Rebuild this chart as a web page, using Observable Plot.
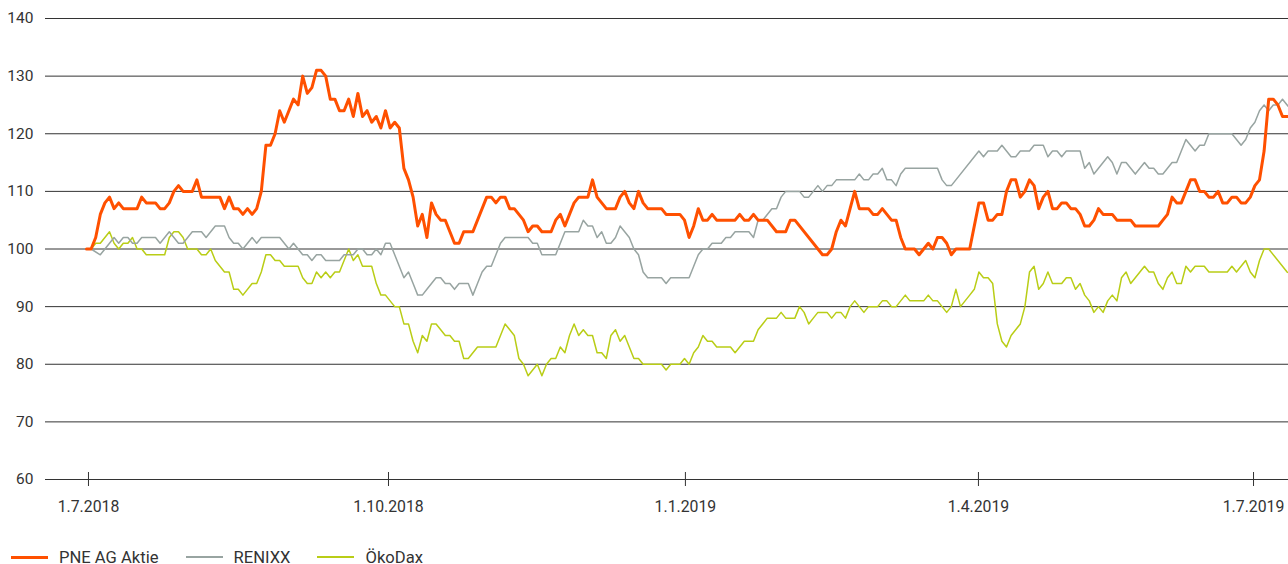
<!DOCTYPE html>
<html>
<head>
<meta charset="utf-8">
<script src="https://cdn.jsdelivr.net/npm/d3@7"></script>
<script src="https://cdn.jsdelivr.net/npm/@observablehq/plot@0.6"></script>
<style>
  html, body { margin: 0; padding: 0; background: #fff; }
  #wrap { position: relative; width: 1288px; height: 564px; font-family: Roboto, "DejaVu Sans", sans-serif; }
  #legend { position: absolute; left: 11px; top: 545px; height: 24px; display: flex; align-items: center; font-size: 16.6px; color: #333; }
  .item { display: flex; align-items: center; margin-right: 27px; }
  .sw { width: 37px; margin-right: 11px; }
</style>
</head>
<body>
<div id="wrap">
  <div id="chart"></div>
  <div id="legend"></div>
</div>
<script>
// Trading-day index (0 = start of July 2018) and index values (start = 100)
const seriesNames = ["PNE AG Aktie", "RENIXX", "ÖkoDax"];
const seriesColors = ["#ff5000", "#98a4a1", "#b9cd16"];

const pne = [[0,100],[1,100],[2,102],[3,106],[4,108],[5,109],[6,107],[7,108],[8,107],[11,107],[12,109],[13,108],[15,108],[16,107],[17,107],[18,108],[19,110],[20,111],[21,110],[23,110],[24,112],[25,109],[29,109],[30,107],[31,109],[32,107],[33,107],[34,106],[35,107],[36,106],[37,107],[38,110],[39,118],[40,118],[41,120],[42,124],[43,122],[44,124],[45,126],[46,125],[47,130],[48,127],[49,128],[50,131],[51,131],[52,130],[53,126],[54,126],[55,124],[56,124],[57,126],[58,123],[59,127],[60,123],[61,124],[62,122],[63,123],[64,121],[65,124],[66,121],[67,122],[68,121],[69,114],[70,112],[71,109],[72,104],[73,106],[74,102],[75,108],[76,106],[77,105],[78,105],[79,103],[80,101],[81,101],[82,103],[84,103],[87,109],[88,109],[89,108],[90,109],[91,109],[92,107],[93,107],[94,106],[95,105],[96,103],[97,104],[98,104],[99,103],[101,103],[102,105],[103,106],[104,104],[105,106],[106,108],[107,109],[109,109],[110,112],[111,109],[112,108],[113,107],[115,107],[116,109],[117,110],[118,108],[119,107],[120,110],[121,108],[122,107],[125,107],[126,106],[129,106],[130,105],[131,102],[132,104],[133,107],[134,105],[135,105],[136,106],[137,105],[141,105],[142,106],[143,105],[144,105],[145,106],[146,105],[148,105],[150,103],[152,103],[153,105],[154,105],[160,99],[161,99],[162,100],[163,103],[164,105],[165,104],[166,107],[167,110],[168,107],[170,107],[171,106],[172,106],[173,107],[174,106],[175,105],[176,105],[177,102],[178,100],[180,100],[181,99],[182,100],[183,101],[184,100],[185,102],[186,102],[187,101],[188,99],[189,100],[192,100],[194,108],[195,108],[196,105],[197,105],[198,106],[199,106],[200,110],[201,112],[202,112],[203,109],[204,110],[205,112],[206,111],[207,107],[208,109],[209,110],[210,107],[211,107],[212,108],[213,108],[214,107],[215,107],[216,106],[217,104],[218,104],[219,105],[220,107],[221,106],[223,106],[224,105],[227,105],[228,104],[233,104],[234,105],[235,106],[236,109],[237,108],[238,108],[239,110],[240,112],[241,112],[242,110],[243,110],[244,109],[245,109],[246,110],[247,108],[248,108],[249,109],[250,109],[251,108],[252,108],[253,109],[254,111],[255,112],[256,117],[257,126],[258,126],[259,125],[260,123],[262,123]];

const renixx = [[0,100],[1,100],[3,99],[4,100],[5,101],[6,102],[7,101],[8,102],[9,102],[10,101],[11,101],[12,102],[15,102],[16,101],[18,103],[19,102],[20,101],[21,101],[23,103],[25,103],[26,102],[28,104],[30,104],[31,102],[32,101],[33,101],[34,100],[36,102],[37,101],[38,102],[42,102],[44,100],[45,101],[46,100],[47,99],[48,99],[49,98],[50,99],[51,99],[52,98],[55,98],[56,99],[58,99],[59,100],[60,100],[61,99],[62,99],[63,100],[64,99],[65,101],[66,101],[67,99],[68,97],[69,95],[70,96],[71,94],[72,92],[73,92],[74,93],[75,94],[76,95],[77,95],[78,94],[79,94],[80,93],[81,94],[83,94],[84,92],[85,94],[86,96],[87,97],[88,97],[89,99],[90,101],[91,102],[96,102],[97,101],[98,101],[99,99],[102,99],[103,101],[104,103],[107,103],[108,105],[109,104],[110,104],[111,102],[112,103],[113,101],[114,101],[115,102],[116,104],[117,103],[118,102],[119,100],[120,99],[121,96],[122,95],[125,95],[126,94],[127,95],[131,95],[132,97],[133,99],[134,100],[135,100],[136,101],[138,101],[139,102],[140,102],[141,103],[144,103],[145,102],[146,105],[147,105],[148,106],[149,107],[150,107],[151,109],[152,110],[155,110],[156,109],[157,109],[158,110],[159,111],[160,110],[161,111],[162,111],[163,112],[167,112],[168,113],[169,112],[170,112],[171,113],[172,113],[173,114],[174,112],[175,112],[176,111],[177,113],[178,114],[185,114],[186,112],[187,111],[188,111],[194,117],[195,116],[196,117],[198,117],[199,118],[200,117],[201,116],[202,116],[203,117],[205,117],[206,118],[208,118],[209,116],[210,117],[211,117],[212,116],[213,117],[216,117],[217,114],[218,115],[219,113],[220,114],[221,115],[222,116],[223,115],[224,113],[225,115],[226,115],[227,114],[228,113],[229,114],[230,115],[231,114],[232,114],[233,113],[234,113],[235,114],[236,115],[237,115],[238,117],[239,119],[240,118],[241,117],[242,118],[243,118],[244,120],[249,120],[250,119],[251,118],[252,119],[253,121],[254,122],[255,124],[256,125],[257,124],[258,125],[259,125],[260,126],[261,125],[262,124]];

const oekodax = [[0,100],[1,100],[2,101],[3,101],[5,103],[6,101],[7,100],[8,101],[9,101],[10,102],[11,100],[12,100],[13,99],[17,99],[18,102],[19,103],[20,103],[21,102],[22,100],[24,100],[25,99],[26,99],[27,100],[28,98],[30,96],[31,96],[32,93],[33,93],[34,92],[36,94],[37,94],[38,96],[39,99],[40,99],[41,98],[42,98],[43,97],[46,97],[47,95],[48,94],[49,94],[50,96],[51,95],[52,96],[53,95],[54,96],[55,96],[56,98],[57,100],[58,98],[59,99],[60,97],[62,97],[63,94],[64,92],[65,92],[66,91],[67,90],[68,90],[69,87],[70,87],[71,84],[72,82],[73,85],[74,84],[75,87],[76,87],[77,86],[78,85],[79,85],[80,84],[81,84],[82,81],[83,81],[85,83],[89,83],[91,87],[93,85],[94,81],[95,80],[96,78],[98,80],[99,78],[100,80],[101,81],[102,81],[103,83],[104,82],[105,85],[106,87],[107,85],[108,86],[109,85],[110,85],[111,82],[112,82],[113,81],[114,85],[115,86],[116,84],[117,85],[118,83],[119,81],[120,81],[121,80],[125,80],[126,79],[127,80],[129,80],[130,81],[131,80],[132,82],[133,83],[134,85],[135,84],[136,84],[137,83],[140,83],[141,82],[142,83],[143,84],[145,84],[146,86],[147,87],[148,88],[150,88],[151,89],[152,88],[154,88],[155,90],[156,89],[157,87],[158,88],[159,89],[161,89],[162,88],[163,89],[164,89],[165,88],[166,90],[167,91],[168,90],[169,89],[170,90],[172,90],[173,91],[174,91],[175,90],[176,90],[178,92],[179,91],[182,91],[183,92],[184,91],[185,91],[186,90],[187,89],[188,90],[189,93],[190,90],[191,91],[192,92],[193,93],[194,96],[195,95],[196,95],[197,94],[198,87],[199,84],[200,83],[201,85],[202,86],[203,87],[204,90],[205,96],[206,97],[207,93],[208,94],[209,96],[210,94],[212,94],[213,95],[214,95],[215,93],[216,94],[217,92],[218,91],[219,89],[220,90],[221,89],[222,91],[223,92],[224,91],[225,95],[226,96],[227,94],[228,95],[229,96],[230,97],[231,96],[232,96],[233,94],[234,93],[235,95],[236,96],[237,94],[238,94],[239,97],[240,96],[241,97],[243,97],[244,96],[248,96],[249,97],[250,96],[251,97],[252,98],[253,96],[254,95],[255,98],[256,100],[257,100],[261,96],[262,95.6]];

const xTickIdx = [0.43, 65.65, 130.2, 193.9, 253.7];
const xTickLabels = ["1.7.2018", "1.10.2018", "1.1.2019", "1.4.2019", "1.7.2019"];
const yTicks = [60, 70, 80, 90, 100, 110, 120, 130, 140];

const drawOrder = [2, 1, 0];
const widths = [3, 1.5, 1.5];

const labelOf = new Map(xTickIdx.map((d, i) => [d, xTickLabels[i]]));

const lineMarks = drawOrder.map(si => {
  const src = si === 0 ? pne : si === 1 ? renixx : oekodax;
  return Plot.line(src, {x: d => d[0], y: d => d[1], stroke: seriesColors[si], strokeWidth: widths[si], clip: true});
});

const chart = Plot.plot({
  width: 1288,
  height: 540,
  marginLeft: 45,
  marginRight: 0,
  marginTop: 18,
  marginBottom: 61,
  style: {fontFamily: "Roboto, 'DejaVu Sans', sans-serif", fontSize: "15px", color: "#333", background: "#fff", overflow: "visible"},
  x: {domain: [-8.913, 261.304], axis: null},
  y: {domain: [60, 140], axis: null},
  marks: [
    Plot.gridY(yTicks, {stroke: "#333", strokeOpacity: 1, strokeWidth: 1}),
    Plot.axisY(yTicks, {tickSize: 0, tickPadding: 12, fontSize: 15.5, fill: "#333"}),
    Plot.ruleX(xTickIdx, {x: d => d, y1: 60, y2: 60, insetTop: -7, insetBottom: -7, stroke: "#333", strokeWidth: 1}),
    Plot.axisX(xTickIdx, {tickSize: 0, tickPadding: 21, fontSize: 15.8, fill: "#333", tickFormat: d => labelOf.get(d)}),
    ...lineMarks
  ]
});
document.getElementById("chart").appendChild(chart);

const legend = document.getElementById("legend");
seriesNames.forEach((name, i) => {
  const item = document.createElement("div");
  item.className = "item";
  const sw = document.createElement("div");
  sw.className = "sw";
  sw.style.height = (i === 0 ? 3 : 2) + "px";
  sw.style.background = seriesColors[i];
  const t = document.createElement("span");
  t.textContent = name;
  item.appendChild(sw);
  item.appendChild(t);
  legend.appendChild(item);
});
</script>
</body>
</html>
